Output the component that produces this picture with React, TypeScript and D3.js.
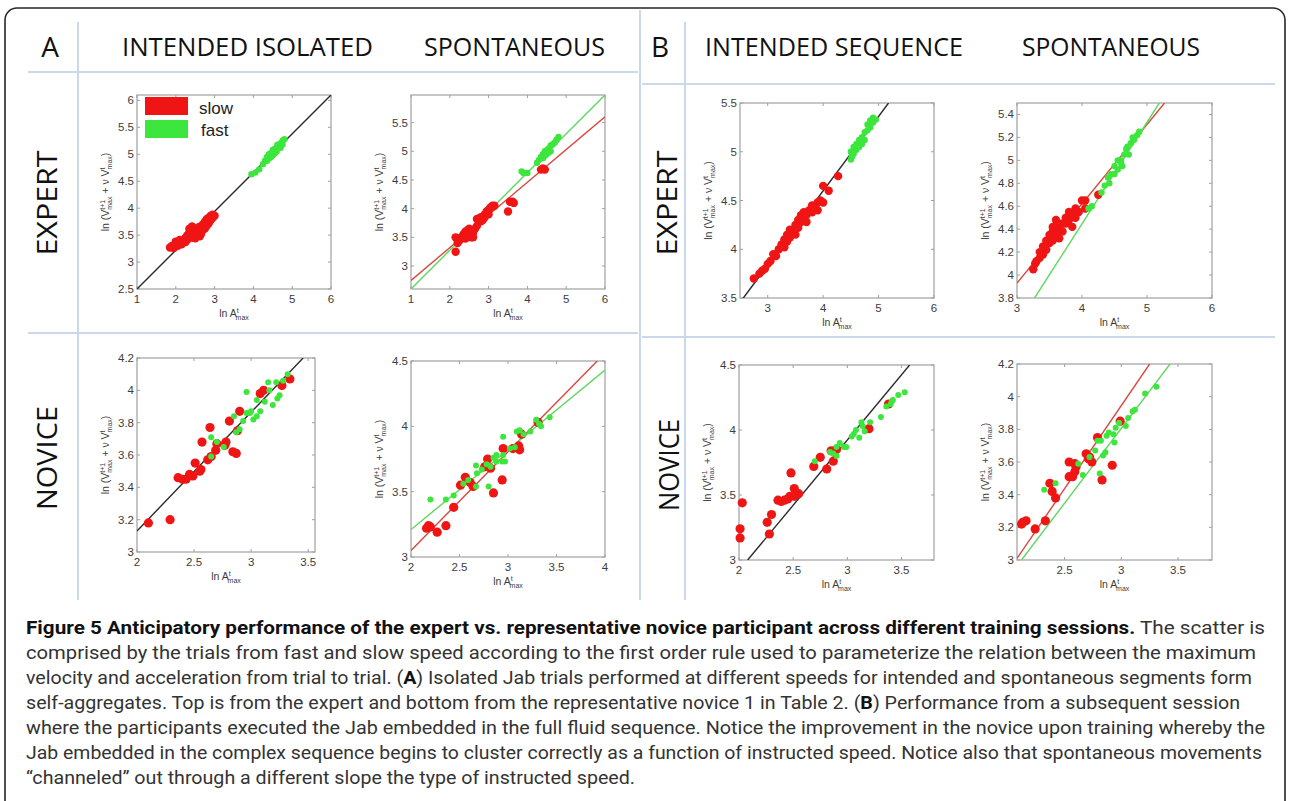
import React from "react";
import * as d3 from "d3";

type Pt = [number, number];

// ---- A, expert, intended isolated ----
const aExpIntSlow: Pt[] = [
  [1.85, 3.27], [1.9, 3.3], [1.95, 3.26], [2.0, 3.32], [2.0, 3.38], [2.05, 3.3], [2.1, 3.36], [2.1, 3.41],
  [2.15, 3.33], [2.2, 3.4], [2.25, 3.45], [2.25, 3.37], [2.3, 3.5], [2.3, 3.42], [2.35, 3.55], [2.35, 3.45],
  [2.35, 3.62], [2.4, 3.6], [2.4, 3.5], [2.45, 3.55], [2.45, 3.45], [2.5, 3.62], [2.5, 3.5], [2.5, 3.44],
  [2.55, 3.58], [2.55, 3.48], [2.6, 3.65], [2.6, 3.55], [2.65, 3.6], [2.65, 3.52], [2.7, 3.7], [2.7, 3.6],
  [2.75, 3.75], [2.75, 3.62], [2.8, 3.8], [2.8, 3.68], [2.85, 3.72], [2.85, 3.82], [2.9, 3.78], [2.9, 3.86],
  [2.95, 3.82], [3.0, 3.86], [2.95, 3.88], [2.42, 3.66], [2.62, 3.48],
];
const aExpIntFast: Pt[] = [
  [3.95, 4.63], [4.05, 4.66], [4.15, 4.72], [4.25, 4.82], [4.3, 4.88], [4.35, 4.95], [4.4, 4.92], [4.4, 5.0],
  [4.45, 5.02], [4.45, 4.95], [4.5, 5.05], [4.5, 4.98], [4.55, 5.1], [4.55, 5.02], [4.6, 5.12], [4.6, 5.05],
  [4.62, 5.18], [4.65, 5.15], [4.7, 5.2], [4.7, 5.12], [4.75, 5.25], [4.75, 5.18], [4.8, 5.28], [4.5, 5.08],
  [4.35, 4.88],
];
const aExpIntFitBlack: Pt[] = [[1, 2.5], [6, 6.1]];

// ---- A, expert, spontaneous ----
const aExpSpoSlow: Pt[] = [
  [2.15, 3.25], [2.15, 3.5], [2.2, 3.4], [2.25, 3.45], [2.3, 3.5], [2.35, 3.55], [2.4, 3.6], [2.4, 3.48],
  [2.45, 3.62], [2.5, 3.55], [2.5, 3.65], [2.55, 3.5], [2.6, 3.5], [2.6, 3.62], [2.65, 3.65], [2.7, 3.7],
  [2.75, 3.82], [2.8, 3.78], [2.8, 3.85], [2.85, 3.8], [2.9, 3.85], [2.9, 3.9], [2.95, 3.95], [3.0, 3.98],
  [3.0, 3.9], [3.05, 4.02], [3.1, 4.05], [3.15, 4.05], [2.7, 3.82], [2.6, 3.58], [2.45, 3.5], [3.5, 3.95],
  [3.55, 4.12], [3.62, 4.12], [3.65, 4.1], [4.35, 4.68], [4.4, 4.7], [4.45, 4.68],
];
const aExpSpoFast: Pt[] = [
  [3.85, 4.65], [3.9, 4.62], [4.0, 4.62], [4.25, 4.8], [4.3, 4.85], [4.35, 4.9], [4.4, 4.95], [4.4, 4.88],
  [4.45, 5.0], [4.5, 5.02], [4.5, 4.95], [4.55, 5.05], [4.6, 5.1], [4.6, 5.0], [4.65, 5.12], [4.7, 5.15],
  [4.75, 5.2], [4.8, 5.25], [4.55, 4.98], [4.45, 4.92],
];
const aExpSpoFitSlow: Pt[] = [[1, 2.75], [6, 5.6]];
const aExpSpoFitFast: Pt[] = [[1, 2.6], [6, 5.98]];

// ---- B, expert, intended sequence ----
const bExpIntSlow: Pt[] = [
  [2.75, 3.7], [2.85, 3.75], [2.9, 3.78], [2.95, 3.8], [3.0, 3.85], [3.05, 3.88], [3.1, 3.95], [3.15, 3.93],
  [3.2, 4.0], [3.25, 4.05], [3.3, 4.1], [3.3, 4.02], [3.35, 4.15], [3.4, 4.12], [3.4, 4.2], [3.45, 4.18],
  [3.5, 4.25], [3.5, 4.15], [3.55, 4.22], [3.55, 4.3], [3.6, 4.28], [3.6, 4.35], [3.65, 4.3], [3.7, 4.35],
  [3.7, 4.28], [3.75, 4.4], [3.8, 4.38], [3.8, 4.45], [3.85, 4.42], [3.9, 4.48], [3.9, 4.4], [3.95, 4.5],
  [4.0, 4.48], [4.0, 4.65], [4.1, 4.6], [4.27, 4.75], [3.35, 4.08], [3.65, 4.38],
];
const bExpIntFast: Pt[] = [
  [4.5, 4.92], [4.5, 5.0], [4.55, 4.98], [4.55, 5.05], [4.6, 5.02], [4.6, 5.08], [4.65, 5.05], [4.65, 5.12],
  [4.7, 5.15], [4.7, 5.08], [4.75, 5.2], [4.75, 5.12], [4.8, 5.22], [4.8, 5.28], [4.85, 5.25], [4.85, 5.32],
  [4.9, 5.3], [4.9, 5.35], [4.95, 5.33], [4.52, 4.95],
];
const bExpIntFitBlack: Pt[] = [[2.56, 3.5], [5.18, 5.5]];

// ---- B, expert, spontaneous ----
const bExpSpoSlow: Pt[] = [
  [3.25, 4.05], [3.28, 4.1], [3.3, 4.12], [3.35, 4.15], [3.35, 4.2], [3.4, 4.18], [3.45, 4.22], [3.45, 4.3],
  [3.5, 4.28], [3.5, 4.35], [3.55, 4.3], [3.55, 4.38], [3.55, 4.42], [3.6, 4.35], [3.6, 4.42], [3.65, 4.4],
  [3.65, 4.32], [3.7, 4.45], [3.7, 4.38], [3.75, 4.45], [3.75, 4.5], [3.8, 4.48], [3.8, 4.55], [3.85, 4.52],
  [3.85, 4.42], [3.9, 4.58], [3.9, 4.5], [3.95, 4.55], [4.0, 4.65], [4.05, 4.65], [4.05, 4.58], [4.25, 4.7],
  [3.4, 4.25], [3.6, 4.48],
];
const bExpSpoFast: Pt[] = [
  [4.1, 4.58], [4.15, 4.6], [4.3, 4.72], [4.35, 4.78], [4.4, 4.85], [4.42, 4.8], [4.45, 4.88], [4.5, 4.95],
  [4.5, 4.88], [4.55, 4.92], [4.55, 5.0], [4.6, 5.0], [4.62, 4.95], [4.65, 5.05], [4.68, 5.1], [4.7, 5.12],
  [4.72, 5.05], [4.75, 5.15], [4.78, 5.2], [4.8, 5.18], [4.85, 5.22], [4.88, 5.25], [4.6, 4.98],
];
const bExpSpoFitSlow: Pt[] = [[3, 3.93], [5.27, 5.5]];
const bExpSpoFitFast: Pt[] = [[3.27, 3.8], [5.19, 5.5]];

// ---- A, novice, intended isolated ----
const aNovIntSlow: Pt[] = [
  [2.1, 3.18], [2.29, 3.2], [2.36, 3.46], [2.4, 3.45], [2.43, 3.45], [2.46, 3.48], [2.49, 3.47], [2.51, 3.55],
  [2.55, 3.5], [2.56, 3.51], [2.57, 3.68], [2.64, 3.77], [2.62, 3.57], [2.65, 3.59], [2.69, 3.63], [2.7, 3.67],
  [2.77, 3.66], [2.78, 3.68], [2.81, 3.81], [2.84, 3.62], [2.87, 3.61], [2.88, 3.75], [2.9, 3.87], [3.08, 3.98],
  [3.11, 4.0], [3.27, 4.03], [3.34, 4.07],
];
const aNovIntFast: Pt[] = [
  [2.65, 3.59], [2.65, 3.71], [2.7, 3.68], [2.76, 3.65], [2.85, 3.84], [2.87, 3.74], [2.9, 3.76], [2.93, 3.81],
  [2.96, 3.99], [2.96, 3.86], [2.99, 3.86], [3.0, 3.87], [3.02, 3.82], [3.05, 3.84], [3.05, 3.94], [3.08, 3.87],
  [3.12, 3.93], [3.15, 4.05], [3.16, 4.0], [3.19, 3.91], [3.22, 4.05], [3.23, 3.95], [3.25, 3.97], [3.28, 4.06],
  [3.32, 4.1],
];
const aNovIntFitBlack: Pt[] = [[2, 3.13], [3.456, 4.2]];

// ---- A, novice, spontaneous ----
const aNovSpoSlow: Pt[] = [
  [2.18, 3.24], [2.16, 3.22], [2.2, 3.23], [2.27, 3.19], [2.36, 3.24], [2.44, 3.38], [2.51, 3.55], [2.56, 3.61],
  [2.61, 3.57], [2.64, 3.54], [2.76, 3.69], [2.79, 3.75], [2.85, 3.49], [2.82, 3.68], [2.94, 3.59], [2.95, 3.83],
  [3.05, 3.83], [3.11, 3.85], [3.12, 3.82], [3.14, 3.94], [3.31, 4.03],
];
const aNovSpoFast: Pt[] = [
  [2.2, 3.44], [2.36, 3.44], [2.44, 3.47], [2.54, 3.56], [2.59, 3.59], [2.67, 3.7], [2.68, 3.64], [2.67, 3.54],
  [2.73, 3.67], [2.8, 3.54], [2.78, 3.71], [2.82, 3.69], [2.85, 3.76], [2.88, 3.73], [2.88, 3.78], [2.94, 3.73],
  [2.95, 3.78], [2.95, 3.92], [2.97, 3.73], [3.02, 3.83], [3.07, 3.84], [3.09, 3.96], [3.12, 3.97], [3.16, 3.94],
  [3.23, 3.96], [3.29, 4.05], [3.32, 4.02], [3.34, 4.0], [3.43, 4.07],
];
const aNovSpoFitSlow: Pt[] = [[2, 3.05], [3.92, 4.5]];
const aNovSpoFitFast: Pt[] = [[2, 3.21], [4, 4.43]];

// ---- B, novice, intended sequence ----
const bNovIntSlow: Pt[] = [
  [2.01, 3.24], [2.01, 3.17], [2.03, 3.44], [2.26, 3.29], [2.3, 3.35], [2.28, 3.2], [2.36, 3.46], [2.39, 3.45],
  [2.42, 3.46], [2.45, 3.47], [2.47, 3.49], [2.48, 3.67], [2.51, 3.55], [2.51, 3.49], [2.55, 3.51], [2.69, 3.72],
  [2.75, 3.79], [2.81, 3.7], [2.85, 3.84], [2.87, 3.76], [2.9, 3.85], [3.2, 4.01], [3.38, 4.2],
];
const bNovIntFast: Pt[] = [
  [2.7, 3.76], [2.84, 3.83], [2.87, 3.82], [2.9, 3.8], [2.9, 3.87], [2.93, 3.9], [2.97, 3.87], [2.99, 3.87],
  [3.04, 3.95], [3.06, 3.97], [3.08, 4.0], [3.11, 3.94], [3.13, 4.06], [3.14, 4.03], [3.16, 3.99], [3.21, 4.06],
  [3.31, 4.1], [3.36, 4.18], [3.4, 4.2], [3.42, 4.23], [3.47, 4.27], [3.53, 4.29], [3.41, 4.22],
];
const bNovIntFitBlack: Pt[] = [[2.08, 3.0], [3.575, 4.5]];

// ---- B, novice, spontaneous ----
const bNovSpoSlow: Pt[] = [
  [2.13, 3.23], [2.16, 3.24], [2.12, 3.22], [2.24, 3.19], [2.33, 3.24], [2.37, 3.47], [2.39, 3.42], [2.42, 3.38],
  [2.54, 3.51], [2.57, 3.51], [2.59, 3.54], [2.54, 3.6], [2.59, 3.59], [2.6, 3.57], [2.69, 3.65], [2.71, 3.62],
  [2.74, 3.6], [2.72, 3.63], [2.83, 3.49], [2.92, 3.58], [2.79, 3.75], [2.99, 3.85],
];
const bNovSpoFast: Pt[] = [
  [2.32, 3.43], [2.42, 3.47], [2.62, 3.59], [2.66, 3.52], [2.72, 3.63], [2.77, 3.67], [2.81, 3.53], [2.79, 3.73],
  [2.82, 3.73], [2.84, 3.64], [2.86, 3.66], [2.87, 3.76], [2.89, 3.78], [2.93, 3.77], [2.94, 3.72], [2.95, 3.81],
  [2.98, 3.84], [3.04, 3.82], [3.06, 3.87], [3.1, 3.91], [3.12, 3.92], [3.21, 4.02], [3.31, 4.06],
];
const bNovSpoFitSlow: Pt[] = [[2.08, 3.01], [3.25, 4.2]];
const bNovSpoFitFast: Pt[] = [[2.12, 3.0], [3.43, 4.2]];

// ---- tick values ----
const ticks1to6 = [1, 2, 3, 4, 5, 6];
const ticks3to6 = [3, 4, 5, 6];
const yTicksAExpInt = [2.5, 3, 3.5, 4, 4.5, 5, 5.5, 6];
const yTicksAExpSpo = [3, 3.5, 4, 4.5, 5, 5.5];
const yTicksBExpInt = [3.5, 4, 4.5, 5, 5.5];
const yTicksBExpSpo = [3.8, 4, 4.2, 4.4, 4.6, 4.8, 5, 5.2, 5.4];
const xTicksNovice = [2, 2.5, 3, 3.5];
const xTicksNovice4 = [2, 2.5, 3, 3.5, 4];
const xTicksBNovSpo = [2.5, 3, 3.5];
const yTicks3to42 = [3, 3.2, 3.4, 3.6, 3.8, 4, 4.2];
const yTicks3to45 = [3, 3.5, 4, 4.5];

const legendLabels = ["slow", "fast"];

const captionLines: { t: string; b?: boolean }[][] = [
  [
    { t: "Figure 5 Anticipatory performance of the expert vs. representative novice participant across different training sessions.", b: true },
    { t: " The scatter is" },
  ],
  [{ t: "comprised by the trials from fast and slow speed according to the first order rule used to parameterize the relation between the maximum" }],
  [
    { t: "velocity and acceleration from trial to trial. (" },
    { t: "A", b: true },
    { t: ") Isolated Jab trials performed at different speeds for intended and spontaneous segments form" },
  ],
  [
    { t: "self-aggregates. Top is from the expert and bottom from the representative novice 1 in Table 2. (" },
    { t: "B", b: true },
    { t: ") Performance from a subsequent session" },
  ],
  [{ t: "where the participants executed the Jab embedded in the full fluid sequence. Notice the improvement in the novice upon training whereby the" }],
  [{ t: "Jab embedded in the complex sequence begins to cluster correctly as a function of instructed speed. Notice also that spontaneous movements" }],
  [{ t: "\u201Cchanneled\u201D out through a different slope the type of instructed speed." }],
];
const captionRight = [1265, 1256, 1252, 1240, 1265, 1262, 635];

const RED = "#f01515";
const GREEN = "#3ce63c";
const RED_LINE = "#d9473f";
const GREEN_LINE = "#5fd85f";
const GRID = "#c9d8ea";
const FONT = "Arial, 'Liberation Sans', sans-serif";
const TITLE_FONT = "'Open Sans', 'Noto Sans', sans-serif";

interface PanelCfg {
  id: string;
  left: number;
  right: number;
  top: number;
  bottom: number;
  xDomain: [number, number];
  yDomain: [number, number];
  xTicks: number[];
  yTicks: number[];
  slow: Pt[];
  fast: Pt[];
  fits: { pts: Pt[]; color: string }[];
  rSlow: number;
  rFast: number;
  legend?: boolean;
}

const panels: PanelCfg[] = [
  {
    id: "p1", left: 137, right: 331, top: 95, bottom: 289,
    xDomain: [1, 6], yDomain: [2.5, 6.1], xTicks: ticks1to6, yTicks: yTicksAExpInt,
    slow: aExpIntSlow, fast: aExpIntFast, fits: [{ pts: aExpIntFitBlack, color: "#2a2a2a" }],
    rSlow: 4.2, rFast: 3.2, legend: true,
  },
  {
    id: "p2", left: 411, right: 605, top: 95, bottom: 289,
    xDomain: [1, 6], yDomain: [2.6, 5.98], xTicks: ticks1to6, yTicks: yTicksAExpSpo,
    slow: aExpSpoSlow, fast: aExpSpoFast,
    fits: [{ pts: aExpSpoFitSlow, color: RED_LINE }, { pts: aExpSpoFitFast, color: GREEN_LINE }],
    rSlow: 4.2, rFast: 3.2,
  },
  {
    id: "p3", left: 740, right: 934, top: 103, bottom: 298,
    xDomain: [2.5, 6], yDomain: [3.5, 5.5], xTicks: ticks3to6, yTicks: yTicksBExpInt,
    slow: bExpIntSlow, fast: bExpIntFast, fits: [{ pts: bExpIntFitBlack, color: "#2a2a2a" }],
    rSlow: 4.2, rFast: 3.2,
  },
  {
    id: "p4", left: 1017, right: 1212, top: 103, bottom: 298,
    xDomain: [3, 6], yDomain: [3.8, 5.5], xTicks: ticks3to6, yTicks: yTicksBExpSpo,
    slow: bExpSpoSlow, fast: bExpSpoFast,
    fits: [{ pts: bExpSpoFitSlow, color: RED_LINE }, { pts: bExpSpoFitFast, color: GREEN_LINE }],
    rSlow: 4.2, rFast: 3.2,
  },
  {
    id: "p5", left: 137, right: 315, top: 358, bottom: 552,
    xDomain: [2, 3.56], yDomain: [3, 4.2], xTicks: xTicksNovice, yTicks: yTicks3to42,
    slow: aNovIntSlow, fast: aNovIntFast, fits: [{ pts: aNovIntFitBlack, color: "#2a2a2a" }],
    rSlow: 4.6, rFast: 3.0,
  },
  {
    id: "p6", left: 411, right: 605, top: 361, bottom: 557,
    xDomain: [2, 4], yDomain: [3, 4.5], xTicks: xTicksNovice4, yTicks: yTicks3to45,
    slow: aNovSpoSlow, fast: aNovSpoFast,
    fits: [{ pts: aNovSpoFitSlow, color: RED_LINE }, { pts: aNovSpoFitFast, color: GREEN_LINE }],
    rSlow: 4.6, rFast: 3.0,
  },
  {
    id: "p7", left: 739, right: 934, top: 365, bottom: 560,
    xDomain: [2, 3.8], yDomain: [3, 4.5], xTicks: xTicksNovice, yTicks: yTicks3to45,
    slow: bNovIntSlow, fast: bNovIntFast, fits: [{ pts: bNovIntFitBlack, color: "#2a2a2a" }],
    rSlow: 4.6, rFast: 3.0,
  },
  {
    id: "p8", left: 1017, right: 1212, top: 364, bottom: 560,
    xDomain: [2.08, 3.8], yDomain: [3, 4.2], xTicks: xTicksBNovSpo, yTicks: yTicks3to42,
    slow: bNovSpoSlow, fast: bNovSpoFast,
    fits: [{ pts: bNovSpoFitSlow, color: RED_LINE }, { pts: bNovSpoFitFast, color: GREEN_LINE }],
    rSlow: 4.6, rFast: 3.0,
  },
];

function Panel({ p }: { p: PanelCfg }) {
  const x = d3.scaleLinear().domain(p.xDomain).range([p.left, p.right]);
  const y = d3.scaleLinear().domain(p.yDomain).range([p.bottom, p.top]);
  const line = d3.line<Pt>().x((d) => x(d[0])).y((d) => y(d[1]));
  const fmt = (v: number) => String(+v.toFixed(2));
  const tl = 3;
  const cx = (p.left + p.right) / 2;
  const cy = (p.top + p.bottom) / 2;
  return (
    <g>
      <defs>
        <clipPath id={`clip-${p.id}`}>
          <rect x={p.left} y={p.top} width={p.right - p.left} height={p.bottom - p.top} />
        </clipPath>
      </defs>
      <rect x={p.left} y={p.top} width={p.right - p.left} height={p.bottom - p.top} fill="#fff" stroke="#a0a0a0" strokeWidth={1.2} />
      {p.xTicks.map((t) => (
        <g key={`xt${t}`} stroke="#a0a0a0" strokeWidth={1}>
          <line x1={x(t)} x2={x(t)} y1={p.bottom} y2={p.bottom - tl} />
          <line x1={x(t)} x2={x(t)} y1={p.top} y2={p.top + tl} />
        </g>
      ))}
      {p.yTicks.map((t) => (
        <g key={`yt${t}`} stroke="#a0a0a0" strokeWidth={1}>
          <line x1={p.left} x2={p.left + tl} y1={y(t)} y2={y(t)} />
          <line x1={p.right} x2={p.right - tl} y1={y(t)} y2={y(t)} />
        </g>
      ))}
      <g clipPath={`url(#clip-${p.id})`}>
        {p.fits.map((f, i) => (
          <path key={i} d={line(f.pts) || ""} fill="none" stroke={f.color} strokeWidth={1.4} />
        ))}
      </g>
      {p.slow.map((d, i) => (
        <circle key={`s${i}`} cx={x(d[0])} cy={y(d[1])} r={p.rSlow} fill={RED} />
      ))}
      {p.fast.map((d, i) => (
        <circle key={`f${i}`} cx={x(d[0])} cy={y(d[1])} r={p.rFast} fill={GREEN} />
      ))}
      <g fontFamily={FONT} fontSize={11.5} fill="#3c3c3c">
        {p.xTicks.map((t) => (
          <text key={`xl${t}`} x={x(t)} y={p.bottom + 14} textAnchor="middle">{fmt(t)}</text>
        ))}
        {p.yTicks.map((t) => (
          <text key={`yl${t}`} x={p.left - 3} y={y(t) + 4} textAnchor="end">{fmt(t)}</text>
        ))}
      </g>
      <text x={cx} y={p.bottom + 28} textAnchor="middle" fontFamily={FONT} fontSize={10.5} fill="#3c3c3c">
        ln A<tspan dy={-4} fontSize={7}>t</tspan>
        <tspan dx={-3} dy={7} fontSize={7}>max</tspan>
      </text>
      <text
        transform={`translate(${p.left - 28},${cy}) rotate(-90)`}
        textAnchor="middle"
        fontFamily={FONT}
        fontSize={10.5}
        fill="#3c3c3c"
      >
        ln (V<tspan dy={-4} fontSize={7}>t+1</tspan>
        <tspan dx={-10} dy={7} fontSize={7}>max</tspan>
        <tspan dy={-3}> + ν V</tspan>
        <tspan dy={-4} fontSize={7}>t</tspan>
        <tspan dx={-2} dy={7} fontSize={7}>max</tspan>
        <tspan dy={-3}>)</tspan>
      </text>
      {p.legend && (
        <g>
          {legendLabels.map((lab, i) => (
            <g key={lab}>
              <rect x={145} y={97 + i * 23} width={43} height={18} fill={i === 0 ? RED : GREEN} />
              <text x={199 + i * 2} y={114 + i * 22} fontFamily={FONT} fontSize={17} fill="#222">{lab}</text>
            </g>
          ))}
        </g>
      )}
    </g>
  );
}

export default function App() {
  return (
    <svg
      width={1290}
      height={801}
      viewBox="0 0 1290 801"
      style={{ position: "absolute", left: 0, top: 0, background: "#fff" }}
    >
      <rect x={0} y={0} width={1290} height={801} fill="#fff" />
      <rect x={5} y={8} width={1280} height={900} rx={12} fill="none" stroke="#262626" strokeWidth={1.6} />

      {/* light grid of the figure table */}
      <g stroke={GRID} strokeWidth={2}>
        <line x1={78} x2={78} y1={22} y2={600} />
        <line x1={640} x2={640} y1={10} y2={600} />
        <line x1={685} x2={685} y1={22} y2={600} />
        <line x1={28} x2={638} y1={72} y2={72} />
        <line x1={642} x2={1275} y1={84} y2={84} />
        <line x1={28} x2={638} y1={333} y2={333} />
        <line x1={642} x2={1275} y1={337} y2={337} />
      </g>

      <g fontFamily={TITLE_FONT} fill="#111">
        <text x={50} y={57} fontSize={28} textAnchor="middle">A</text>
        <text x={122} y={56} fontSize={26} textLength={251} lengthAdjust="spacingAndGlyphs">INTENDED  ISOLATED</text>
        <text x={424} y={56} fontSize={26} textLength={181} lengthAdjust="spacingAndGlyphs">SPONTANEOUS</text>
        <text x={660} y={57} fontSize={28} textAnchor="middle">B</text>
        <text x={705} y={56} fontSize={26} textLength={258} lengthAdjust="spacingAndGlyphs">INTENDED SEQUENCE</text>
        <text x={1022} y={56} fontSize={26} textLength={178} lengthAdjust="spacingAndGlyphs">SPONTANEOUS</text>
        <text transform="translate(57,203) rotate(-90)" fontSize={27} textAnchor="middle" textLength={105} lengthAdjust="spacingAndGlyphs">EXPERT</text>
        <text transform="translate(57,458) rotate(-90)" fontSize={27} textAnchor="middle" textLength={104} lengthAdjust="spacingAndGlyphs">NOVICE</text>
        <text transform="translate(677,203) rotate(-90)" fontSize={27} textAnchor="middle" textLength={105} lengthAdjust="spacingAndGlyphs">EXPERT</text>
        <text transform="translate(679,465) rotate(-90)" fontSize={27} textAnchor="middle" textLength={92} lengthAdjust="spacingAndGlyphs">NOVICE</text>
      </g>

      {panels.map((p) => (
        <Panel key={p.id} p={p} />
      ))}

      <g fontFamily="'Liberation Sans Narrow', 'Roboto', sans-serif" fontSize={18} fill="#333">
        {captionLines.map((segs, i) => (
          <text
            key={i}
            x={26}
            y={634 + i * 25}
            textLength={captionRight[i] - 26}
            lengthAdjust="spacingAndGlyphs"
          >
            {segs.map((s, j) => (
              <tspan key={j} fontWeight={s.b ? "bold" : "normal"} fill={s.b ? "#111" : "#333"}>
                {s.t}
              </tspan>
            ))}
          </text>
        ))}
      </g>
    </svg>
  );
}
